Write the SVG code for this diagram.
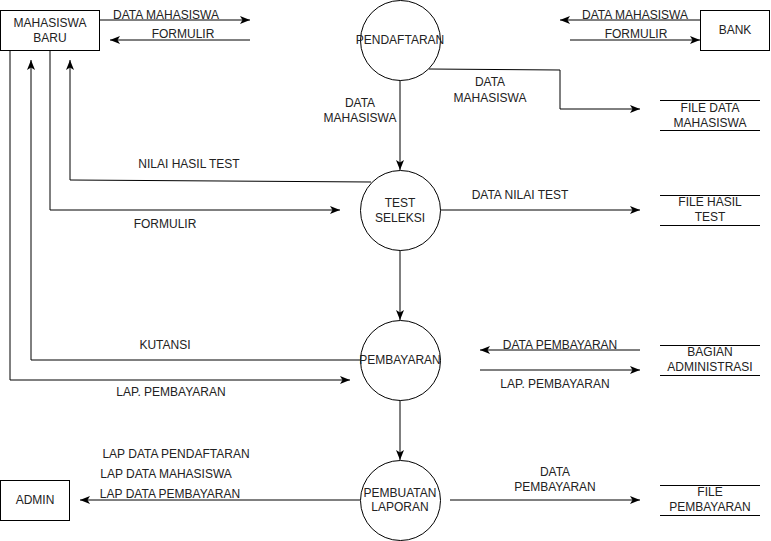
<svg xmlns="http://www.w3.org/2000/svg" width="771" height="541" viewBox="0 0 771 541">
<style>
text{font-family:"Liberation Sans",Arial,sans-serif;font-size:12px;fill:#222;text-anchor:middle}
.n{fill:#fff;stroke:#000;stroke-width:1}
.c{fill:none;stroke:#000;stroke-width:1}
.a{marker-end:url(#ah)}
.s{stroke:#000;stroke-width:1}
</style>
<defs>
<marker id="ah" markerUnits="userSpaceOnUse" markerWidth="10" markerHeight="10" viewBox="0 0 10 10" refX="10" refY="5" orient="auto">
<path d="M0,1 L10,5 L0,9 L2.5,5 z" fill="#000"/>
</marker>
</defs>
<rect width="771" height="541" fill="#fff"/>
<g id="connectors">
<line class="c a" x1="100" y1="20" x2="250" y2="20"/>
<line class="c a" x1="250" y1="40" x2="110" y2="40"/>
<line class="c a" x1="700" y1="20" x2="560" y2="20"/>
<line class="c a" x1="570" y1="40" x2="700" y2="40"/>
<line class="c a" x1="400" y1="80" x2="400" y2="170"/>
<line class="c a" x1="400" y1="250" x2="400" y2="320"/>
<line class="c a" x1="400" y1="400" x2="400" y2="460"/>
<polyline class="c a" points="429,69 560,70 560,109 640,109"/>
<polyline class="c a" points="371,182 70,180 70,60"/>
<polyline class="c a" points="50,50 50,210 340,210"/>
<polyline class="c a" points="360,360 31,360 31,60"/>
<polyline class="c a" points="10,50 10,380 350,380"/>
<line class="c a" x1="440" y1="210" x2="640" y2="210"/>
<line class="c a" x1="640" y1="350" x2="480" y2="350"/>
<line class="c a" x1="480" y1="370" x2="640" y2="370"/>
<line class="c a" x1="360" y1="500" x2="80" y2="500"/>
<line class="c a" x1="450" y1="500" x2="640" y2="500"/>
<text x="166" y="19">DATA MAHASISWA</text>
<text x="183" y="38">FORMULIR</text>
<text x="635" y="19">DATA MAHASISWA</text>
<text x="636" y="38">FORMULIR</text>
<text x="360" y="107">DATA</text>
<text x="360" y="122">MAHASISWA</text>
<text x="490" y="86">DATA</text>
<text x="490" y="102">MAHASISWA</text>
<text x="189" y="168">NILAI HASIL TEST</text>
<text x="165" y="228">FORMULIR</text>
<text x="520" y="199">DATA NILAI TEST</text>
<text x="165" y="349">KUTANSI</text>
<text x="171" y="396">LAP. PEMBAYARAN</text>
<text x="560" y="349">DATA PEMBAYARAN</text>
<text x="555" y="388">LAP. PEMBAYARAN</text>
<text x="176" y="458">LAP DATA PENDAFTARAN</text>
<text x="166" y="478">LAP DATA MAHASISWA</text>
<text x="170" y="498">LAP DATA PEMBAYARAN</text>
<text x="555" y="476">DATA</text>
<text x="555" y="491">PEMBAYARAN</text>
</g>
<g id="mahasiswa-baru"><rect class="n" x="0.5" y="10.5" width="99" height="40"/><text x="50" y="27">MAHASISWA</text><text x="50" y="42">BARU</text></g>
<g id="bank"><rect class="n" x="700.5" y="10.5" width="69" height="40"/><text x="735" y="34">BANK</text></g>
<g id="admin"><rect class="n" x="0.5" y="480.5" width="69" height="40"/><text x="35" y="504">ADMIN</text></g>
<g id="pendaftaran"><circle class="n" cx="400.5" cy="40.5" r="40"/><text x="400" y="44">PENDAFTARAN</text></g>
<g id="test-seleksi"><circle class="n" cx="400.5" cy="210.5" r="40"/><text x="400" y="207">TEST</text><text x="400" y="222">SELEKSI</text></g>
<g id="pembayaran"><circle class="n" cx="400.5" cy="360.5" r="40"/><text x="400" y="364">PEMBAYARAN</text></g>
<g id="pembuatan-laporan"><circle class="n" cx="400.5" cy="500.5" r="40"/><text x="400" y="497">PEMBUATAN</text><text x="400" y="511">LAPORAN</text></g>
<g id="file-data-mahasiswa"><line class="s" x1="660" y1="100.5" x2="760" y2="100.5"/><line class="s" x1="660" y1="130.5" x2="760" y2="130.5"/><text x="710" y="112">FILE DATA</text><text x="710" y="127">MAHASISWA</text></g>
<g id="file-hasil-test"><line class="s" x1="660" y1="195.5" x2="760" y2="195.5"/><line class="s" x1="660" y1="225.5" x2="760" y2="225.5"/><text x="710" y="206">FILE HASIL</text><text x="710" y="221">TEST</text></g>
<g id="bagian-administrasi"><line class="s" x1="660" y1="345.5" x2="760" y2="345.5"/><line class="s" x1="660" y1="375.5" x2="760" y2="375.5"/><text x="710" y="356">BAGIAN</text><text x="710" y="371">ADMINISTRASI</text></g>
<g id="file-pembayaran"><line class="s" x1="660" y1="485.5" x2="760" y2="485.5"/><line class="s" x1="660" y1="515.5" x2="760" y2="515.5"/><text x="710" y="496">FILE</text><text x="710" y="511">PEMBAYARAN</text></g>
</svg>
